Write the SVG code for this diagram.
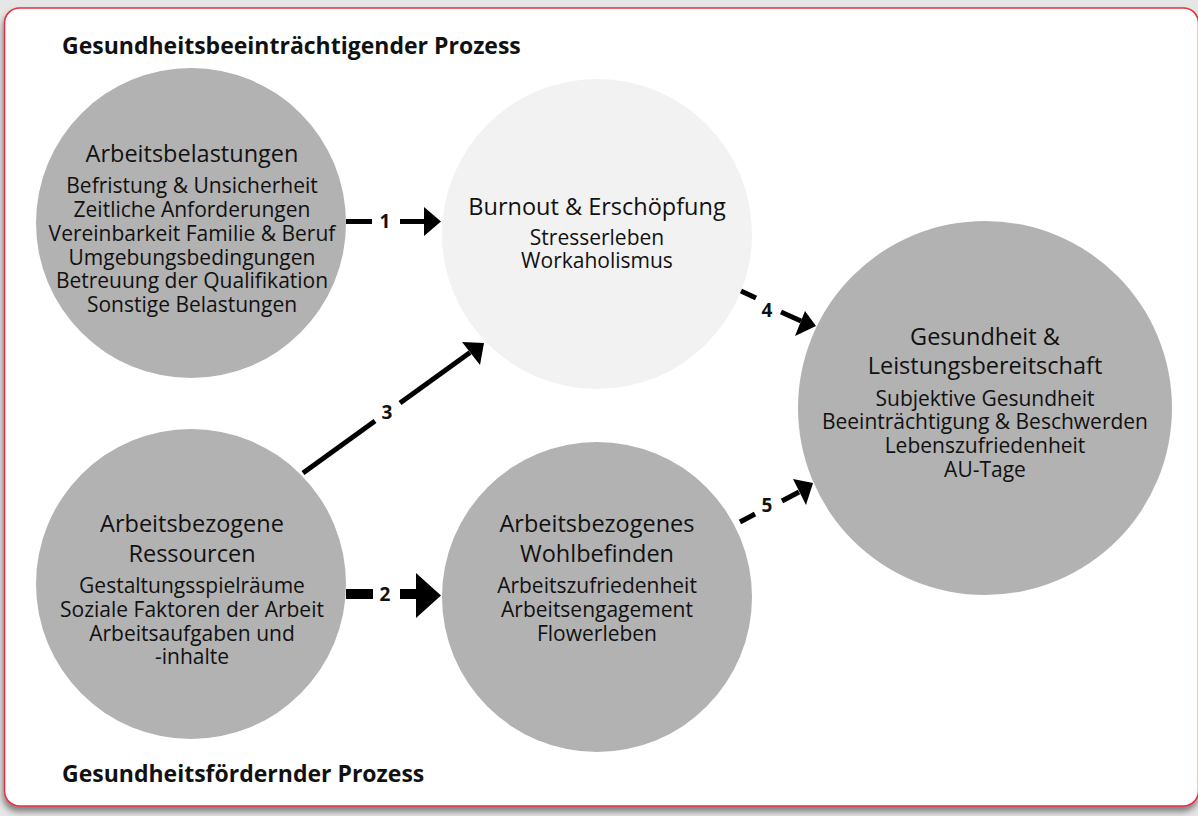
<svg xmlns="http://www.w3.org/2000/svg" width="1198" height="816" viewBox="0 0 1198 816">
  <defs>
    <filter id="shadow" x="-5%" y="-5%" width="110%" height="115%">
      <feDropShadow dx="-1" dy="5" stdDeviation="3" flood-color="#000" flood-opacity="0.45"/>
    </filter>
    <style>
      .bg { fill: #e6e6e6; }
      .frame { fill: #ffffff; stroke: #e3323e; stroke-width: 1.6; }
      .node { fill: #b2b2b2; }
      .node.light { fill: #f2f2f2; }
      text { font-family: "Open Sans", "Liberation Sans", sans-serif; fill: #111; text-anchor: middle; }
      .title { font-size: 23.5px; }
      .item { font-size: 21px; }
      .head { font-size: 23px; font-weight: bold; text-anchor: start; }
      .num { font-size: 19px; font-weight: bold; }
      .conn { stroke: #000; fill: none; }
      .tip { fill: #000; stroke: none; }
    </style>
  </defs>

  <rect class="bg" x="0" y="0" width="1198" height="816"/>
  <rect class="frame" x="4.5" y="8" width="1194" height="798" rx="15" ry="15" filter="url(#shadow)"/>

  <text class="head" x="62" y="54">Gesundheitsbeeinträchtigender Prozess</text>
  <text class="head" x="62" y="782">Gesundheitsfördernder Prozess</text>

  <g id="node-belastungen">
    <circle class="node" cx="191" cy="223" r="155"/>
    <text class="title" x="192" y="162">Arbeitsbelastungen</text>
    <text class="item" x="192" y="193">Befristung &amp; Unsicherheit</text>
    <text class="item" x="192" y="217">Zeitliche Anforderungen</text>
    <text class="item" x="192" y="241">Vereinbarkeit Familie &amp; Beruf</text>
    <text class="item" x="192" y="265">Umgebungsbedingungen</text>
    <text class="item" x="192" y="288">Betreuung der Qualifikation</text>
    <text class="item" x="192" y="312">Sonstige Belastungen</text>
  </g>

  <g id="node-burnout">
    <circle class="node light" cx="597" cy="234" r="155"/>
    <text class="title" x="597" y="215">Burnout &amp; Erschöpfung</text>
    <text class="item" x="597" y="245">Stresserleben</text>
    <text class="item" x="597" y="268">Workaholismus</text>
  </g>

  <g id="node-ressourcen">
    <circle class="node" cx="191" cy="584" r="155"/>
    <text class="title" x="192" y="532">Arbeitsbezogene</text>
    <text class="title" x="192" y="562">Ressourcen</text>
    <text class="item" x="192" y="593">Gestaltungsspielräume</text>
    <text class="item" x="192" y="617">Soziale Faktoren der Arbeit</text>
    <text class="item" x="192" y="641">Arbeitsaufgaben und</text>
    <text class="item" x="192" y="664">-inhalte</text>
  </g>

  <g id="node-wohlbefinden">
    <circle class="node" cx="597" cy="597" r="155"/>
    <text class="title" x="597" y="532">Arbeitsbezogenes</text>
    <text class="title" x="597" y="562">Wohlbefinden</text>
    <text class="item" x="597" y="593">Arbeitszufriedenheit</text>
    <text class="item" x="597" y="617">Arbeitsengagement</text>
    <text class="item" x="597" y="641">Flowerleben</text>
  </g>

  <g id="node-gesundheit">
    <circle class="node" cx="985" cy="408" r="187"/>
    <text class="title" x="985" y="345">Gesundheit &amp;</text>
    <text class="title" x="985" y="374">Leistungsbereitschaft</text>
    <text class="item" x="985" y="406">Subjektive Gesundheit</text>
    <text class="item" x="985" y="429">Beeinträchtigung &amp; Beschwerden</text>
    <text class="item" x="985" y="453">Lebenszufriedenheit</text>
    <text class="item" x="985" y="477">AU-Tage</text>
  </g>

  <g id="connectors">
    <!-- 1: Belastungen to Burnout -->
    <g id="edge-1">
      <line class="conn" x1="346" y1="221.5" x2="372" y2="221.5" stroke-width="5"/>
      <line class="conn" x1="400" y1="221.5" x2="425" y2="221.5" stroke-width="5"/>
      <polygon class="tip" points="424,207 441,221.5 424,236"/>
      <text class="num" x="385" y="228">1</text>
    </g>
    <!-- 2: Ressourcen to Wohlbefinden -->
    <g id="edge-2">
      <line class="conn" x1="346" y1="594" x2="373" y2="594" stroke-width="10"/>
      <line class="conn" x1="400" y1="594" x2="418" y2="594" stroke-width="10"/>
      <polygon class="tip" points="416,573 441,595.5 416,618"/>
      <text class="num" x="385" y="601">2</text>
    </g>
    <!-- 3: Ressourcen to Burnout -->
    <g id="edge-3">
      <line class="conn" x1="303" y1="473" x2="375" y2="421" stroke-width="5"/>
      <line class="conn" x1="400" y1="403" x2="470" y2="352.5" stroke-width="5"/>
      <polygon class="tip" points="462,342 484,343 480,365"/>
      <text class="num" x="387" y="419">3</text>
    </g>
    <!-- 4: Burnout to Gesundheit -->
    <g id="edge-4">
      <line class="conn" x1="741" y1="291" x2="756" y2="298" stroke-width="5"/>
      <line class="conn" x1="781" y1="312" x2="801" y2="321" stroke-width="5"/>
      <polygon class="tip" points="805,311 816,326 795,336"/>
      <text class="num" x="767" y="317">4</text>
    </g>
    <!-- 5: Wohlbefinden to Gesundheit -->
    <g id="edge-5">
      <line class="conn" x1="740" y1="522" x2="755" y2="514" stroke-width="5"/>
      <line class="conn" x1="782" y1="501" x2="799" y2="492" stroke-width="5"/>
      <polygon class="tip" points="793,479 813,483 806,505"/>
      <text class="num" x="767" y="512">5</text>
    </g>
  </g>
</svg>
